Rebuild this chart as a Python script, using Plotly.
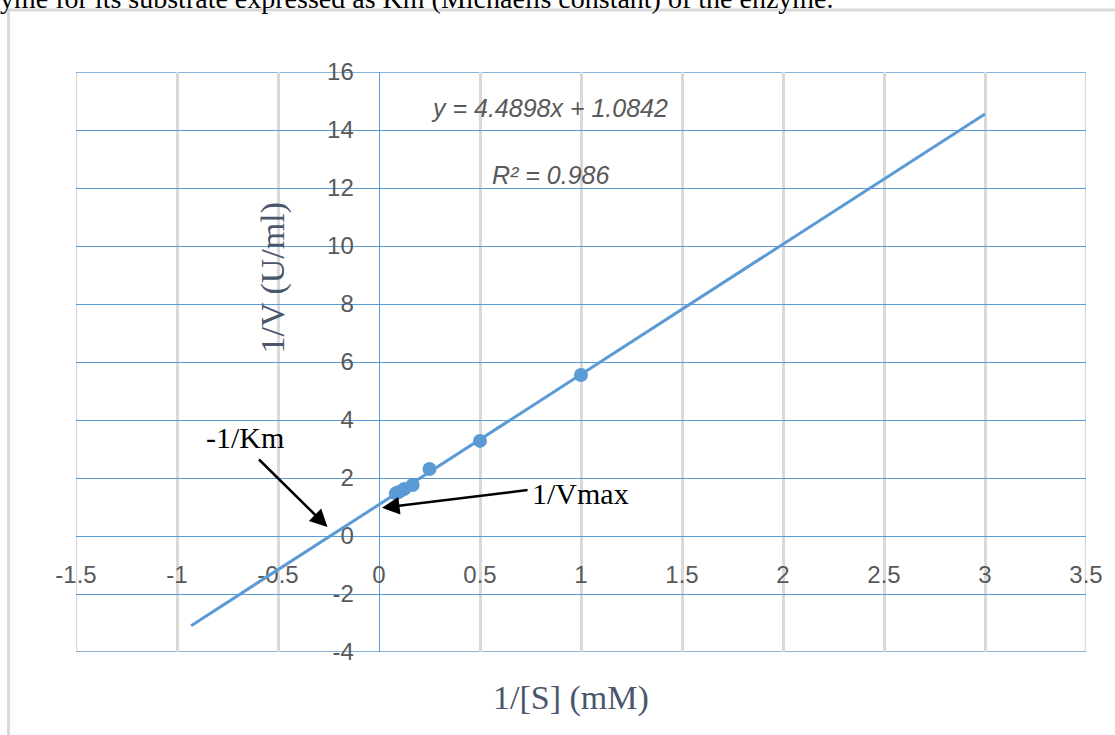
import plotly.graph_objects as go

# ---- data ----
inv_s = [1.0, 0.5, 0.25, 0.1667, 0.125, 0.1, 0.0833]          # 1/[S] (mM)
inv_v = [5.55, 3.28, 2.31, 1.76, 1.62, 1.52, 1.47]             # 1/V (U/ml)
slope = 4.4898
intercept = 1.0842
fit_x = [-0.93, 3.0]
x_ticks = [-1.5, -1, -0.5, 0, 0.5, 1, 1.5, 2, 2.5, 3, 3.5]
y_ticks = [-4, -2, 0, 2, 4, 6, 8, 10, 12, 14, 16]

fit_y = [slope * v + intercept for v in fit_x]

W, H = 1115, 735
ML, MR, MT, MB = 76, 21, 72, 83
PW, PH = W - ML - MR, H - MT - MB

def px2paper_x(px):
    return (px - ML) / PW

def px2paper_y(py):
    return (H - MB - py) / PH

BLUE = "#5b9bd5"
GRID = "#d9d9d9"
TICK = "#595959"
TITLE_C = "#4a566b"

fig = go.Figure()
fig.add_trace(go.Scatter(x=fit_x, y=fit_y, mode="lines",
                         line=dict(color=BLUE, width=3), hoverinfo="skip",
                         showlegend=False))
fig.add_trace(go.Scatter(x=inv_s, y=inv_v, mode="markers",
                         marker=dict(color=BLUE, size=14), showlegend=False))

xr = [x_ticks[0], x_ticks[-1]]
yr = [y_ticks[0], y_ticks[-1]]

fig.update_layout(
    width=W, height=H,
    margin=dict(l=ML, r=MR, t=MT, b=MB),
    paper_bgcolor="white", plot_bgcolor="white",
    font=dict(family="Liberation Sans", color=TICK, size=24),
    xaxis=dict(range=xr, tickvals=x_ticks,
               ticktext=[f"{v:g}" for v in x_ticks],
               showgrid=True, gridcolor=GRID, gridwidth=2.5,
               zeroline=True, zerolinecolor=BLUE, zerolinewidth=1.2,
               showline=False, anchor="free", position=px2paper_y(536),
               ticks="outside", ticklen=17, tickcolor="rgba(0,0,0,0)",
               tickfont=dict(size=24, color=TICK), layer="below traces"),
    yaxis=dict(range=yr, tickvals=y_ticks,
               ticktext=[f"{v:g}" for v in y_ticks],
               showgrid=True, gridcolor=BLUE, gridwidth=1.3,
               zeroline=True, zerolinecolor=BLUE, zerolinewidth=1.3,
               showline=False, anchor="free", position=px2paper_x(380),
               ticks="outside", ticklen=19, tickcolor="rgba(0,0,0,0)",
               tickfont=dict(size=24, color=TICK), layer="below traces"),
)

# edge gridlines (plotly omits those on the range limits)
for xv in xr:
    fig.add_shape(type="line", xref="x", yref="y", x0=xv, x1=xv, y0=yr[0], y1=yr[1],
                  line=dict(color=GRID, width=2.5), layer="below")
for yv in yr:
    fig.add_shape(type="line", xref="x", yref="y", x0=xr[0], x1=xr[1], y0=yv, y1=yv,
                  line=dict(color=BLUE, width=1.3), layer="below")

serif = "Liberation Serif"
ann = [
    dict(x=-0.663, y=3.41, xref="x", yref="y", text="-1/Km", showarrow=False,
         xanchor="center", yanchor="middle",
         font=dict(family=serif, size=30, color="black")),
    dict(x=0.997, y=1.48, xref="x", yref="y", text="1/Vmax", showarrow=False,
         xanchor="center", yanchor="middle",
         font=dict(family=serif, size=30, color="black")),
    dict(x=-0.255, y=0.31, xref="x", yref="y", text="", showarrow=True,
         ax=-70, ay=-69, arrowhead=2, arrowsize=1.4, arrowwidth=2.5,
         arrowcolor="black", standoff=0),
    dict(x=0.015, y=0.97, xref="x", yref="y", text="", showarrow=True,
         ax=147, ay=-18, arrowhead=2, arrowsize=1.4, arrowwidth=2.5,
         arrowcolor="black", standoff=0),
    dict(x=0.845, y=14.76, xref="x", yref="y",
         text=f"<i>y = {slope}x + {intercept}</i>", showarrow=False,
         xanchor="center", yanchor="middle",
         font=dict(family="Liberation Sans", size=25, color=TICK)),
    dict(x=0.85, y=12.45, xref="x", yref="y",
         text="<i>R² = 0.986</i>", showarrow=False,
         xanchor="center", yanchor="middle",
         font=dict(family="Liberation Sans", size=25, color=TICK)),
    dict(x=px2paper_x(275), y=px2paper_y(278), xref="paper", yref="paper",
         xanchor="center", yanchor="middle",
         text="1/V (U/ml)", textangle=-90, showarrow=False,
         font=dict(family=serif, size=34, color=TITLE_C)),
    dict(x=px2paper_x(575), y=px2paper_y(698), xref="paper", yref="paper",
         xanchor="center", yanchor="middle",
         text="1/[S] (mM)", showarrow=False,
         font=dict(family=serif, size=34, color=TITLE_C)),
    dict(x=px2paper_x(-3), y=px2paper_y(-2), xref="paper", yref="paper",
         xanchor="left", yanchor="middle",
         text="yme for its substrate expressed as Km (Michaelis constant) of the enzyme.",
         showarrow=False, font=dict(family=serif, size=28, color="black")),
]
fig.update_layout(annotations=ann)

fig.add_shape(type="rect", xref="paper", yref="paper",
              x0=px2paper_x(8), x1=px2paper_x(1125),
              y0=px2paper_y(745), y1=px2paper_y(10),
              line=dict(color=GRID, width=3), layer="below")

fig.write_html("out.html", config={"displayModeBar": False},
               post_script="document.body.style.margin='0';")
